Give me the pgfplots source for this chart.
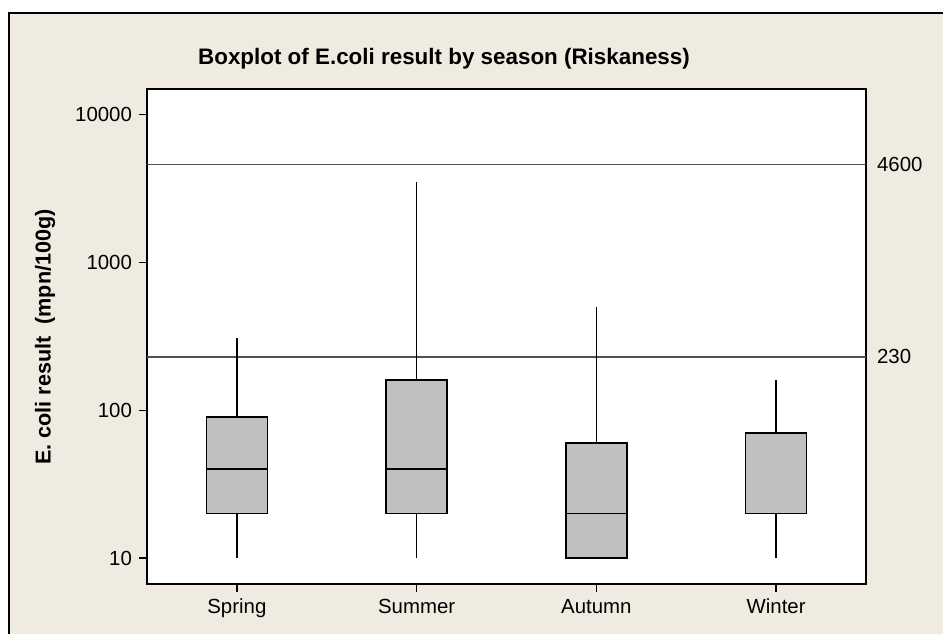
\documentclass[border=0pt]{standalone}
\usepackage{fontspec}
\setmainfont{Liberation Sans}
\usepackage{pgfplots}
\pgfplotsset{compat=1.18}
\definecolor{bg}{RGB}{239,235,225}
\definecolor{boxgray}{RGB}{192,192,192}
\definecolor{refgray}{RGB}{80,80,80}
% box: left, centre, right, lower whisker, Q1, median, Q3, upper whisker
\newcommand{\seasonbox}[8]{%
  \addplot[black, line width=0.7pt] coordinates {(#2,#4) (#2,#5)};
  \addplot[black, line width=0.7pt] coordinates {(#2,#7) (#2,#8)};
  \addplot[draw=black, fill=boxgray, line width=0.8pt] coordinates {(#1,#5) (#3,#5) (#3,#7) (#1,#7)} -- cycle;
  \addplot[black, line width=0.8pt] coordinates {(#1,#6) (#3,#6)};
}
\begin{document}
\begin{tikzpicture}
\useasboundingbox (0,0) rectangle (471.5pt,-317pt);
\fill[bg] (4.5pt,-6.5pt) rectangle (471.5pt,-317pt);
\draw[line width=0.75pt] (471.5pt,-6.5pt) -- (4.5pt,-6.5pt) -- (4.5pt,-317pt);
\node[font=\fontsize{11.2}{13}\selectfont\bfseries] at (222pt,-29.5pt) {Boxplot of E.coli result by season (Riskaness)};
\node[font=\fontsize{10.8}{12}\selectfont\bfseries, rotate=90] at (22.5pt,-168.5pt) {E. coli result\ \ (mpn/100g)};
\begin{axis}[
  at={(73.5pt,-292pt)}, anchor=south west,
  scale only axis, width=359.5pt, height=247.5pt,
  xmin=0.5, xmax=4.5, ymode=log, ymin=6.67, ymax=14930,
  xtick={1,2,3,4}, xticklabels={Spring,Summer,Autumn,Winter},
  ytick={10,100,1000,10000}, yticklabels={10,100,1000,10000},
  yminorticks=false, xminorticks=false,
  tick align=outside, tick pos=left, major tick length=4pt,
  tick style={black, line width=0.7pt},
  axis line style={line width=0.8pt},
  axis background/.style={fill=white},
  tick label style={font=\fontsize{10.2}{12}\selectfont},
  /pgf/number format/assume math mode=true,
  clip=false,
]
\addplot[refgray, line width=0.75pt] coordinates {(0.5,230) (4.5,230)};
\addplot[refgray, line width=0.75pt] coordinates {(0.5,4600) (4.5,4600)};
\seasonbox{0.83}{1}{1.17}{10}{20}{40}{90}{310}
\seasonbox{1.83}{2}{2.17}{10}{20}{40}{160}{3500}
\seasonbox{2.83}{3}{3.17}{10}{10}{20}{60}{500}
\seasonbox{3.83}{4}{4.17}{10}{20}{20}{70}{160}
\node[anchor=west, font=\fontsize{10.2}{12}\selectfont, xshift=2pt] at (axis cs:4.5,4600) {4600};
\node[anchor=west, font=\fontsize{10.2}{12}\selectfont, xshift=2pt] at (axis cs:4.5,230) {230};
\end{axis}
\end{tikzpicture}
\end{document}
